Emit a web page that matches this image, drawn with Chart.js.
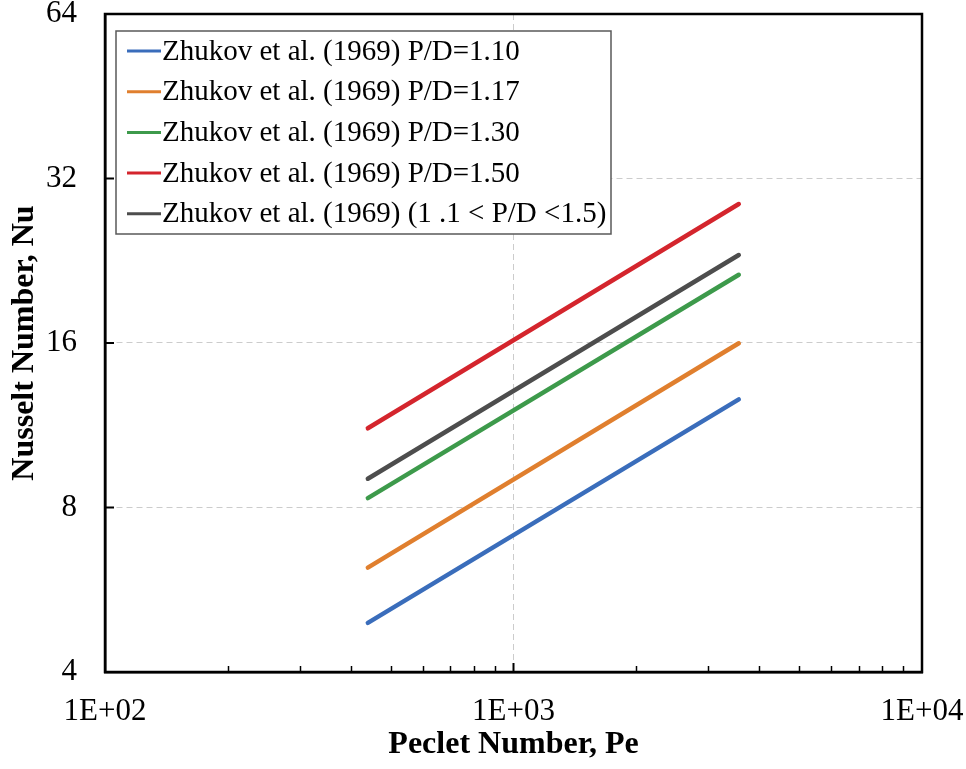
<!DOCTYPE html>
<html>
<head>
<meta charset="utf-8">
<script src="https://cdn.jsdelivr.net/npm/chart.js@4"></script>
<style>
  body { margin: 0; background: #fff; }
  #wrap { width: 966px; height: 769px; }
</style>
</head>
<body>
<div id="wrap"><canvas id="nuChart" width="966" height="769"></canvas></div>
<script>
// Peclet number range of each correlation line
const peValues = [440, 3560];

// Nusselt number at the start / end of each line
const nuPD110 = [4.92, 12.62];
const nuPD117 = [6.21, 15.98];
const nuPD130 = [8.32, 21.33];
const nuPD150 = [11.17, 28.74];
const nuRange = [9.03, 23.18];

const seriesLabels = [
  "Zhukov et al. (1969) P/D=1.10",
  "Zhukov et al. (1969) P/D=1.17",
  "Zhukov et al. (1969) P/D=1.30",
  "Zhukov et al. (1969) P/D=1.50",
  "Zhukov et al. (1969) (1 .1 < P/D <1.5)",
];
const seriesColors = ["#3a6dbb", "#e07f2e", "#3d9a4b", "#d4252d", "#4d4d4d"];

const xTicks = [100, 1000, 10000];
const xTickLabels = ["1E+02", "1E+03", "1E+04"];
const yTicks = [4, 8, 16, 32, 64];

const FONT = "'Liberation Serif', 'Times New Roman', serif";

function toPoints(ys) {
  return peValues.map((x, i) => ({ x: x, y: ys[i] }));
}

const allSeries = [nuPD110, nuPD117, nuPD130, nuPD150, nuRange];
const datasets = allSeries.map((ys, i) => ({
  label: seriesLabels[i],
  data: toPoints(ys),
  borderColor: seriesColors[i],
  backgroundColor: seriesColors[i],
  borderWidth: 4.5,
  pointRadius: 0,
  borderCapStyle: "round",
  fill: false,
}));

// inward minor/major tick marks + box border
const frameTicks = {
  id: "frameTicks",
  afterDatasetsDraw(chart) {
    const { ctx, chartArea: a, scales } = chart;
    ctx.save();
    ctx.strokeStyle = "#000";
    ctx.lineWidth = 1.5;
    for (let d = 100; d < 10000; d *= 10) {
      for (let m = 2; m <= 9; m++) {
        const px = Math.round(scales.x.getPixelForValue(d * m)) + 0.5;
        ctx.beginPath();
        ctx.moveTo(px, a.bottom);
        ctx.lineTo(px, a.bottom - 6);
        ctx.stroke();
      }
    }
    ctx.lineWidth = 2;
    xTicks.forEach((v) => {
      const px = scales.x.getPixelForValue(v);
      ctx.beginPath();
      ctx.moveTo(px, a.bottom);
      ctx.lineTo(px, a.bottom - 9);
      ctx.stroke();
    });
    yTicks.forEach((v) => {
      const py = scales.y.getPixelForValue(v);
      ctx.beginPath();
      ctx.moveTo(a.left, py);
      ctx.lineTo(a.left + 9, py);
      ctx.stroke();
    });
    ctx.lineWidth = 2.5;
    ctx.strokeRect(a.left, a.top, a.right - a.left, a.bottom - a.top);
    ctx.restore();
  },
};

// boxed legend inside the plot area
const boxLegend = {
  id: "boxLegend",
  afterDraw(chart) {
    const { ctx } = chart;
    const x0 = 116, y0 = 31, w = 495, h = 203;
    ctx.save();
    ctx.fillStyle = "#fff";
    ctx.fillRect(x0, y0, w, h);
    ctx.strokeStyle = "#595959";
    ctx.lineWidth = 1.5;
    ctx.strokeRect(x0, y0, w, h);
    ctx.font = "29px " + FONT;
    ctx.textBaseline = "middle";
    ctx.fillStyle = "#000";
    chart.data.datasets.forEach((ds, i) => {
      const cy = y0 + 20 + i * 40.7;
      ctx.strokeStyle = ds.borderColor;
      ctx.lineWidth = 3;
      ctx.beginPath();
      ctx.moveTo(127, cy);
      ctx.lineTo(161, cy);
      ctx.stroke();
      ctx.fillText(ds.label, 162, cy + 1);
    });
    ctx.restore();
  },
};

new Chart(document.getElementById("nuChart"), {
  type: "line",
  data: { datasets },
  plugins: [frameTicks, boxLegend],
  options: {
    responsive: false,
    animation: false,
    layout: { padding: { top: 14, right: 44, left: 0, bottom: 0 } },
    plugins: {
      legend: { display: false },
      tooltip: { enabled: false },
    },
    scales: {
      x: {
        type: "logarithmic",
        min: 100,
        max: 10000,
        afterBuildTicks: (s) => { s.ticks = xTicks.map((v) => ({ value: v })); },
        afterFit: (s) => {
          s.height = 97;
          s.paddingLeft = 0;
          s.paddingRight = 0;
        },
        grid: { color: "#cccccc", lineWidth: 1, drawTicks: false },
        border: { color: "#000", width: 2.5, dash: [6, 4] },
        ticks: {
          color: "#000",
          padding: 21,
          maxRotation: 0,
          font: { family: FONT, size: 31 },
          callback: (v) => xTickLabels[xTicks.indexOf(v)],
        },
        title: {
          display: true,
          text: "Peclet Number, Pe",
          color: "#000",
          padding: { top: 0, bottom: 5 },
          font: { family: FONT, size: 32, weight: "bold" },
        },
      },
      y: {
        type: "logarithmic",
        min: 4,
        max: 64,
        afterBuildTicks: (s) => { s.ticks = yTicks.map((v) => ({ value: v })); },
        afterFit: (s) => {
          s.width = 105;
          s.paddingTop = 0;
          s.paddingBottom = 0;
        },
        grid: { color: "#cccccc", lineWidth: 1, drawTicks: false },
        border: { color: "#000", width: 2.5, dash: [6, 4] },
        ticks: {
          color: "#000",
          padding: 28,
          font: { family: FONT, size: 31 },
          callback: (v) => String(v),
        },
        title: {
          display: true,
          text: "Nusselt Number, Nu",
          color: "#000",
          padding: { top: 6, bottom: 0 },
          font: { family: FONT, size: 32, weight: "bold" },
        },
      },
    },
  },
});
</script>
</body>
</html>
